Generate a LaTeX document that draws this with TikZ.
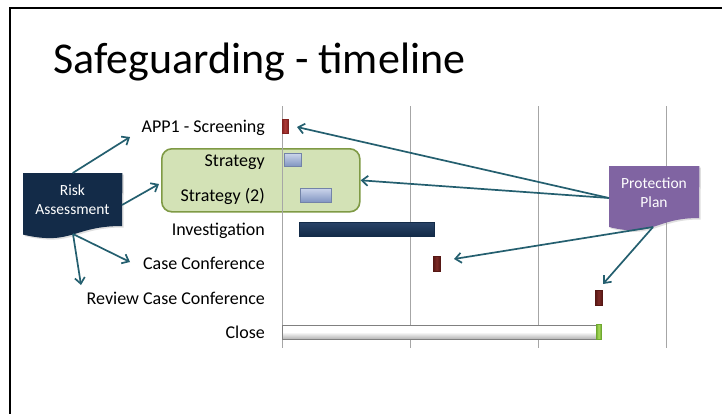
\documentclass[tikz,border=0pt]{standalone}
\usepackage{fontspec}
\setmainfont{Carlito}
\usetikzlibrary{arrows.meta,shadows}
\definecolor{navy}{HTML}{132B48}
\definecolor{navytop}{HTML}{2A4468}
\definecolor{purp}{HTML}{8064A2}
\definecolor{grpfill}{HTML}{D3E2B6}
\definecolor{grpline}{HTML}{7F9A45}
\definecolor{arrc}{HTML}{245F6F}
\definecolor{gridc}{HTML}{A6A6A6}
\definecolor{bltop}{HTML}{CAD4EA}
\definecolor{blbot}{HTML}{7F93C0}
\definecolor{blline}{HTML}{7383A8}
\definecolor{redmid}{HTML}{B03A36}
\definecolor{redside}{HTML}{822220}
\definecolor{drmid}{HTML}{7C2A26}
\definecolor{drside}{HTML}{561714}
\definecolor{gmid}{HTML}{A8DC5A}
\definecolor{gside}{HTML}{6FA830}
\begin{document}
\begin{tikzpicture}[x=1pt,y=-1pt,
  lbl/.style={anchor=base east,inner sep=0,font=\fontsize{18}{20}\selectfont},
  barbox/.style={inner sep=0,anchor=west,minimum height=14},
  redbar/.style={barbox,draw=redside,line width=0.3pt,left color=redside,right color=redside,middle color=redmid},
  darkred/.style={barbox,draw=drside,line width=0.3pt,left color=drside,right color=drside,middle color=drmid},
  bluebar/.style={barbox,draw=blline,line width=0.5pt,top color=bltop,bottom color=blbot},
  navybar/.style={barbox,draw=navy,top color=navytop,bottom color=navy,line width=0.5pt},
  closebar/.style={barbox,draw=gray,line width=1pt,top color=white,bottom color=gray!60,middle color=white},
  greenend/.style={barbox,draw=gside,line width=0.3pt,left color=gside,right color=gside,middle color=gmid},
  arr/.style={draw=arrc,line width=1.7pt,-{Straight Barb[length=6pt,width=10pt,line width=1.7pt]}},
  doctxt/.style={text=white,align=center,font=\fontsize{15.5}{19}\selectfont,inner sep=0},
  docshadow/.style={drop shadow={opacity=0.25,shadow xshift=1.5pt,shadow yshift=-1.5pt}}]
\useasboundingbox (0,0) rectangle (722,413);
\fill[white] (0,0) rectangle (722,413);
% frame
\draw[line width=2.4pt] (10,420) -- (10,8) -- (730,8);
% title
\node[anchor=base west,inner sep=0,font=\fontsize{44}{50}\selectfont] (title) at (53,73) {Safeguarding - timeline};
% group box
\node[draw=grpline,fill=grpfill,line width=1.6pt,rounded corners=10pt,minimum width=198,minimum height=63,inner sep=0,anchor=north west] (grp) at (161,148) {};
% grid lines
\foreach \gx in {282,410,538,666} \draw[gridc,line width=0.9pt] (\gx,106) -- (\gx,348);
% labels
\node[lbl] (l1) at (265,132) {APP1 - Screening};
\node[lbl] (l2) at (265,166.5) {Strategy};
\node[lbl] (l3) at (265,201) {Strategy (2)};
\node[lbl] (l4) at (265,235) {Investigation};
\node[lbl] (l5) at (265,269.5) {Case Conference};
\node[lbl] (l6) at (265,304) {Review Case Conference};
\node[lbl] (l7) at (265,338) {Close};
% bars
\node[redbar,minimum width=6] (b1) at (282,126) {};
\node[bluebar,minimum width=17,minimum height=13] (b2) at (284,160) {};
\node[bluebar,minimum width=31] (b3) at (300,195.5) {};
\node[navybar,minimum width=135] (b4) at (299,229) {};
\node[darkred,minimum width=7,minimum height=15] (b5) at (433,264) {};
\node[darkred,minimum width=7,minimum height=15] (b6) at (595,298) {};
\node[closebar,minimum width=314] (b7) at (282,332) {};
\node[greenend,minimum width=5,minimum height=15] (b8) at (596,332) {};
% Risk Assessment document shape
\node[inner sep=0,minimum width=99,minimum height=66,anchor=north west] (risk) at (23,173) {};
\fill[navy,docshadow] (risk.north west) -- (risk.north east) -- (122,226) .. controls (72.5,226) and (72.5,246) .. (23,234.6) -- cycle;
\node[doctxt] (risktxt) at (72.5,200) {Risk\\Assessment};
% Protection Plan document shape
\node[inner sep=0,minimum width=90,minimum height=65,anchor=north west] (prot) at (609,166) {};
\fill[purp,docshadow] (prot.north west) -- (prot.north east) -- (699,218) .. controls (654,218) and (654,238) .. (609,227) -- cycle;
\node[doctxt] (prottxt) at (654,192.5) {Protection\\Plan};
% arrow end points
\coordinate (riskb) at (73,234);
\coordinate (t1) at (130,137);
\coordinate (t2) at (159,184);
\coordinate (t3) at (130,262);
\coordinate (t4) at (81,285);
\coordinate (protl) at (609,198);
\coordinate (protb) at (653,227);
\coordinate (p1) at (297,127);
\coordinate (p3) at (454,259);
\coordinate (p4) at (603,284);
% arrows
\draw[arr] (risk.north) -- (t1);
\draw[arr] (122,205) -- (t2);
\draw[arr] (riskb) -- (t3);
\draw[arr] (riskb) -- (t4);
\draw[arr] (protl) -- (p1);
\draw[arr] (protl) -- (grp.east);
\draw[arr] (protb) -- (p3);
\draw[arr] (protb) -- (p4);
\end{tikzpicture}
\end{document}
